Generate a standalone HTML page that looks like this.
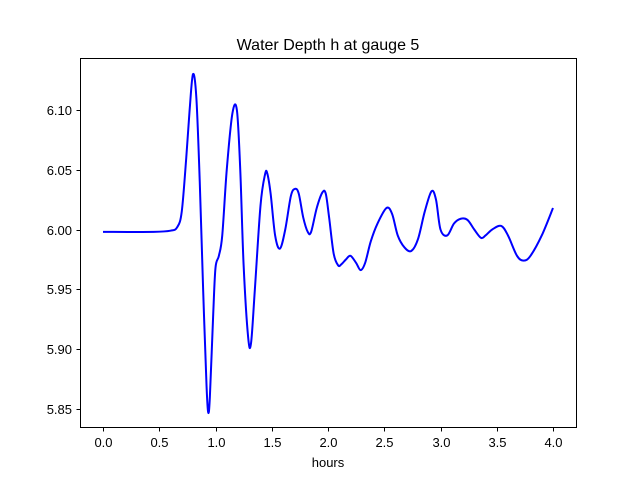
<!DOCTYPE html>
<html><head><meta charset="utf-8"><style>
body{margin:0;background:#fff}
svg text{font-family:"Liberation Sans","DejaVu Sans",sans-serif;fill:#000}
</style></head><body>
<svg id="chart" width="640" height="480" viewBox="0 0 640 480">
<rect width="640" height="480" fill="#fff"/>
<text x="328" y="50" font-size="16" text-anchor="middle">Water Depth h at gauge 5</text>
<g id="ticks"></g>
<path id="line" fill="none" stroke="#0000ff" stroke-width="2"/>
<rect x="80.5" y="58.5" width="496" height="369" fill="none" stroke="#000" stroke-width="1"/>
<text x="328" y="467" font-size="13" text-anchor="middle">hours</text>
</svg>
<script>
const times=[0,0.45,0.6,0.66,0.7,0.74,0.77,0.8,0.83,0.86,0.89,0.92,0.935,0.95,0.98,1.0,1.03,1.06,1.1,1.15,1.19,1.22,1.25,1.29,1.316,1.35,1.4,1.44,1.46,1.49,1.53,1.573,1.62,1.67,1.707,1.74,1.78,1.82,1.85,1.9,1.95,1.98,2.01,2.05,2.09,2.12,2.16,2.2,2.25,2.29,2.33,2.38,2.44,2.52,2.57,2.62,2.68,2.74,2.8,2.86,2.92,2.96,3.0,3.06,3.12,3.18,3.24,3.3,3.36,3.4,3.46,3.54,3.6,3.68,3.74,3.8,3.9,4.0];
const depths=[5.998,5.998,5.999,6.002,6.015,6.06,6.1,6.13,6.11,6.04,5.95,5.87,5.847,5.86,5.93,5.968,5.978,5.995,6.05,6.097,6.1,6.05,5.97,5.91,5.905,5.95,6.02,6.046,6.047,6.03,5.995,5.984,6.0,6.028,6.034,6.03,6.01,5.998,5.998,6.018,6.031,6.03,6.01,5.98,5.97,5.971,5.975,5.978,5.972,5.966,5.972,5.99,6.005,6.018,6.013,5.995,5.985,5.982,5.992,6.015,6.032,6.025,6.0,5.995,6.005,6.009,6.008,6.0,5.993,5.995,6.0,6.003,5.995,5.978,5.974,5.978,5.995,6.018];
const xTicks=[0,0.5,1,1.5,2,2.5,3,3.5,4];
const xTickLabels=["0.0","0.5","1.0","1.5","2.0","2.5","3.0","3.5","4.0"];
const yTicks=[5.85,5.9,5.95,6.0,6.05,6.1];
const yTickLabels=["5.85","5.90","5.95","6.00","6.05","6.10"];

function xScale(v){return 103+v*112.5;}
function yScale(v){return 229.5+(6.0-v)/0.05*59.75;}

const ns="http://www.w3.org/2000/svg";
const g=document.getElementById('ticks');
xTicks.forEach((v,i)=>{
  const x=Math.round(xScale(v))+0.5;
  const l=document.createElementNS(ns,'line');
  l.setAttribute('x1',x);l.setAttribute('x2',x);l.setAttribute('y1',427.5);l.setAttribute('y2',431.5);l.setAttribute('stroke','#000');
  
  
  g.appendChild(l);
  const t=document.createElementNS(ns,'text');
  t.setAttribute('x',x);t.setAttribute('y',447);t.setAttribute('font-size','13');t.setAttribute('text-anchor','middle');
  t.textContent=xTickLabels[i];
  
  
  g.appendChild(t);
});
yTicks.forEach((v,i)=>{
  const y=Math.round(yScale(v))+0.5;
  const l=document.createElementNS(ns,'line');
  l.setAttribute('x1',76.5);l.setAttribute('x2',80.5);l.setAttribute('y1',y);l.setAttribute('y2',y);l.setAttribute('stroke','#000');
  
  
  g.appendChild(l);
  const t=document.createElementNS(ns,'text');
  t.setAttribute('x',72);t.setAttribute('y',y+4.5);t.setAttribute('font-size','13');t.setAttribute('text-anchor','end');
  t.textContent=yTickLabels[i];
  
  
  g.appendChild(t);
});
const pts=times.map((t,i)=>[xScale(t),yScale(depths[i])]);
let d='M'+pts[0][0]+','+pts[0][1];
for(let i=0;i<pts.length-1;i++){
  const p0=pts[Math.max(0,i-1)],p1=pts[i],p2=pts[i+1],p3=pts[Math.min(pts.length-1,i+2)];
  const c1=[p1[0]+(p2[0]-p0[0])/6,p1[1]+(p2[1]-p0[1])/6];
  const c2=[p2[0]-(p3[0]-p1[0])/6,p2[1]-(p3[1]-p1[1])/6];
  d+=' C'+c1[0]+','+c1[1]+' '+c2[0]+','+c2[1]+' '+p2[0]+','+p2[1];
}
document.getElementById('line').setAttribute('d',d);
</script>
</body></html>
